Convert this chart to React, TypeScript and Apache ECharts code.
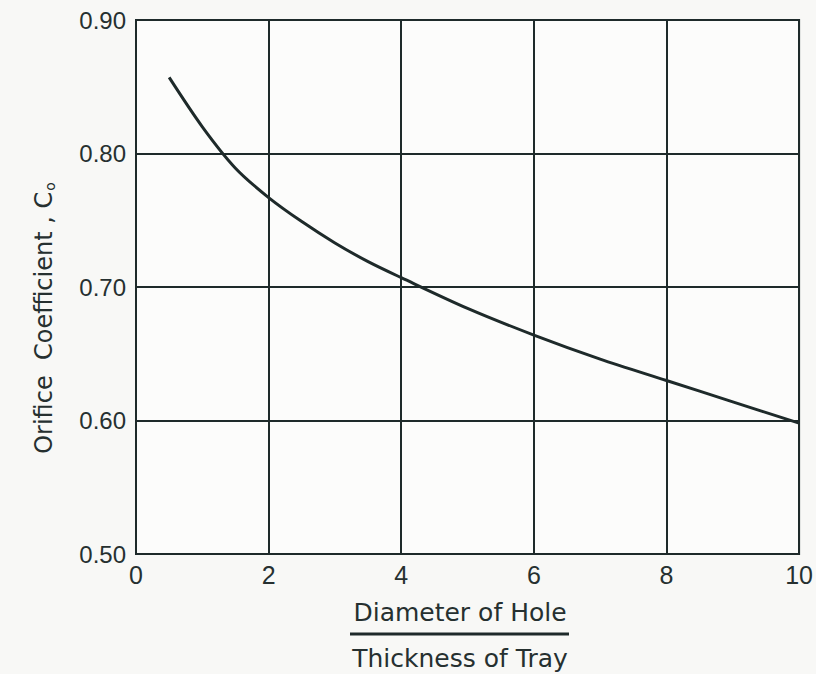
import React, { useEffect, useRef } from "react";
import * as echarts from "echarts";

// Ratio of hole diameter to tray thickness
const ratioValues = [0.5, 1, 1.5, 2, 2.5, 3, 3.5, 4, 5, 6, 7, 8, 9, 10];
// Orifice coefficient C_o at each ratio
const coefficientValues = [
  0.857, 0.82, 0.789, 0.767, 0.749, 0.733, 0.719, 0.707, 0.684, 0.664, 0.646,
  0.63, 0.614, 0.598,
];

const xTicks = { min: 0, max: 10, interval: 2 };
const yTicks = { min: 0.5, max: 0.9, interval: 0.1 };

const INK = "#1e2a2a";
const TEXT = "#263030";

export default function App() {
  const ref = useRef<HTMLDivElement>(null);

  useEffect(() => {
    if (!ref.current) return;
    const chart = echarts.init(ref.current, undefined, { renderer: "svg" });
    const points = ratioValues.map((x, i) => [x, coefficientValues[i]]);

    chart.setOption({
      animation: false,
      backgroundColor: "#f8f8f6",
      grid: {
        left: 136,
        right: 10,
        top: 20,
        bottom: 120,
        show: true,
        backgroundColor: "#fcfcfb",
        borderColor: INK,
        borderWidth: 2,
      },
      xAxis: {
        type: "value",
        min: xTicks.min,
        max: xTicks.max,
        interval: xTicks.interval,
        axisLine: { show: true, lineStyle: { color: INK, width: 2 } },
        axisTick: { show: false },
        splitLine: { show: true, lineStyle: { color: INK, width: 2 } },
        axisLabel: {
          color: TEXT,
          fontFamily: "Liberation Sans",
          fontSize: 25,
          margin: 8,
          formatter: (v: number) => String(v),
        },
      },
      yAxis: {
        type: "value",
        min: yTicks.min,
        max: yTicks.max,
        interval: yTicks.interval,
        axisLine: { show: true, lineStyle: { color: INK, width: 2 } },
        axisTick: { show: false },
        splitLine: { show: true, lineStyle: { color: INK, width: 2 } },
        axisLabel: {
          color: TEXT,
          fontFamily: "Liberation Sans",
          fontSize: 24,
          margin: 10,
          formatter: (v: number) => v.toFixed(2),
        },
      },
      series: [
        {
          type: "line",
          data: points,
          smooth: 0.3,
          showSymbol: false,
          lineStyle: { color: INK, width: 3 },
        },
      ],
      graphic: [
        {
          type: "text",
          x: 44,
          y: 318,
          rotation: Math.PI / 2,
          style: {
            text: "{a|Orifice  Coefficient , C}{s|o}",
            align: "center",
            verticalAlign: "middle",
            rich: {
              a: {
                fontFamily: "DejaVu Sans",
                fontSize: 24,
                fill: TEXT,
              },
              s: {
                fontFamily: "DejaVu Sans",
                fontSize: 14,
                fill: TEXT,
                padding: [12, 0, 0, 1],
              },
            },
          },
        },
        {
          type: "text",
          x: 460,
          y: 612,
          style: {
            text: "Diameter of Hole",
            align: "center",
            verticalAlign: "middle",
            fontFamily: "DejaVu Sans",
            fontSize: 25,
            fill: TEXT,
          },
        },
        {
          type: "line",
          shape: { x1: 350, y1: 634, x2: 569, y2: 634 },
          style: { stroke: INK, lineWidth: 3 },
        },
        {
          type: "text",
          x: 460,
          y: 658,
          style: {
            text: "Thickness of Tray",
            align: "center",
            verticalAlign: "middle",
            fontFamily: "DejaVu Sans",
            fontSize: 25,
            fill: TEXT,
          },
        },
      ],
    });

    return () => chart.dispose();
  }, []);

  return (
    <div
      ref={ref}
      style={{ position: "fixed", left: 0, top: 0, width: 816, height: 674 }}
    />
  );
}
